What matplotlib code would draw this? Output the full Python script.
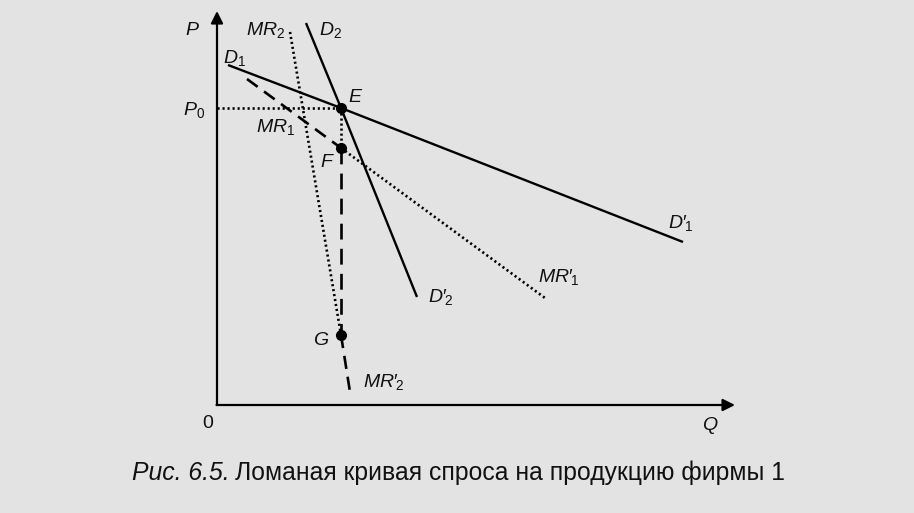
import matplotlib
matplotlib.use("Agg")
import matplotlib.pyplot as plt

plt.rcParams['font.family'] = ['Liberation Sans', 'DejaVu Sans']
plt.rcParams['mathtext.fontset'] = 'custom'
plt.rcParams['mathtext.it'] = 'Liberation Sans:italic'
plt.rcParams['mathtext.rm'] = 'Liberation Sans'

# key points of the kinked demand diagram (Q, P)
E = (12.4, 29.7)
F = (12.4, 25.7)
G = (12.4, 7.0)
P0 = 29.7

# demand curves: start, kink E, end
d1_q = [1.1, E[0], 46.6]
d1_p = [34.0, E[1], 16.3]
d2_q = [8.9, E[0], 20.0]
d2_p = [38.2, E[1], 10.8]

# marginal revenue curves
mr1_q = [3.0, F[0]]
mr1_p = [32.6, F[1]]
mr1b_q = [F[0], 32.8]
mr1b_p = [F[1], 10.7]
mr2_q = [7.3, G[0]]
mr2_p = [37.3, G[1]]
mr2b_q = [G[0], 13.3]
mr2b_p = [G[1], 1.3]

q_max = 51.8
p_max = 39.4

caption_it = "Рис. 6.5."
caption = "Ломаная кривая спроса на продукцию фирмы 1"

fig = plt.figure(figsize=(9.14, 5.13), dpi=100)
fig.patch.set_facecolor('#e3e3e3')
ax = fig.add_axes([0, 0, 1, 1])
ax.set_xlim(-21.7, 69.7)
ax.set_ylim(-10.8, 40.5)
ax.axis('off')

k = 'k'
dot = dict(color=k, lw=1.9, ls=(0, (0.8, 1.1)))
# axes with arrows
ax.annotate('', xy=(0, p_max), xytext=(0, 0),
            arrowprops=dict(arrowstyle='-|>', color=k, lw=1.6, mutation_scale=18, shrinkA=0, shrinkB=0))
ax.annotate('', xy=(q_max, 0), xytext=(-0.05, 0),
            arrowprops=dict(arrowstyle='-|>', color=k, lw=1.6, mutation_scale=18, shrinkA=0, shrinkB=0))

ax.plot(d1_q, d1_p, color=k, lw=1.7, solid_capstyle='butt')
ax.plot(d2_q, d2_p, color=k, lw=1.7, solid_capstyle='butt')
ax.plot(mr1_q, mr1_p, color=k, lw=1.9, ls=(0, (5, 3)))
ax.plot(mr1b_q, mr1b_p, **dot)
ax.plot(mr2_q, mr2_p, **dot)
ax.plot(mr2b_q, mr2b_p, color=k, lw=1.9, ls=(0, (5, 3)))
ax.plot([0, E[0]], [P0, P0], **dot)
ax.plot([E[0], F[0]], [E[1], F[1]], **dot)
ax.plot([F[0], G[0]], [F[1], G[1]], color=k, lw=1.9, ls=(0, (6, 3.5)))

pts_q = [E[0], F[0], G[0]]
pts_p = [E[1], F[1], G[1]]
ax.plot(pts_q, pts_p, 'o', color=k, ms=7, ls='none')

fs = 14
lab = dict(fontsize=fs, color='#111111', va='baseline', ha='left')
ax.text(-3.2, 37.0, '$P$', **lab)
ax.text(-3.4, 29.0, '$P_{\\mathrm{0}}$', **lab)
ax.text(2.9, 37.0, '$MR_{\\mathrm{2}}$', **lab)
ax.text(10.2, 37.0, '$D_{\\mathrm{2}}$', **lab)
ax.text(0.6, 34.2, '$D_{\\mathrm{1}}$', **lab)
ax.text(13.1, 30.3, '$E$', **lab)
ax.text(3.9, 27.3, '$MR_{\\mathrm{1}}$', **lab)
ax.text(10.3, 23.8, '$F$', **lab)
ax.text(45.1, 17.7, "$D\\mathit{\u2032}_{\\!\\mathrm{1}}$", **lab)
ax.text(32.1, 12.3, "$MR\\mathit{\u2032}_{\\!\\mathrm{1}}$", **lab)
ax.text(21.1, 10.3, "$D\\mathit{\u2032}_{\\!\\mathrm{2}}$", **lab)
ax.text(9.6, 6.0, '$G$', **lab)
ax.text(14.6, 1.8, "$MR\\mathit{\u2032}_{\\!\\mathrm{2}}$", **lab)
ax.text(48.5, -2.5, '$Q$', **lab)
ax.text(-1.5, -2.3, '0', **lab)

cap_y = -7.5
t = ax.text(-8.5, cap_y, caption_it, fontsize=17.85, style='italic', color='#111111', va='baseline', ha='left')
fig.canvas.draw()
bb = t.get_window_extent()
x_next = ax.transData.inverted().transform((bb.x1, 0))[0]
ax.text(x_next + 0.5, cap_y, caption, fontsize=17.85, color='#111111', va='baseline', ha='left')

fig.savefig('out.png', dpi=100, facecolor=fig.get_facecolor())
